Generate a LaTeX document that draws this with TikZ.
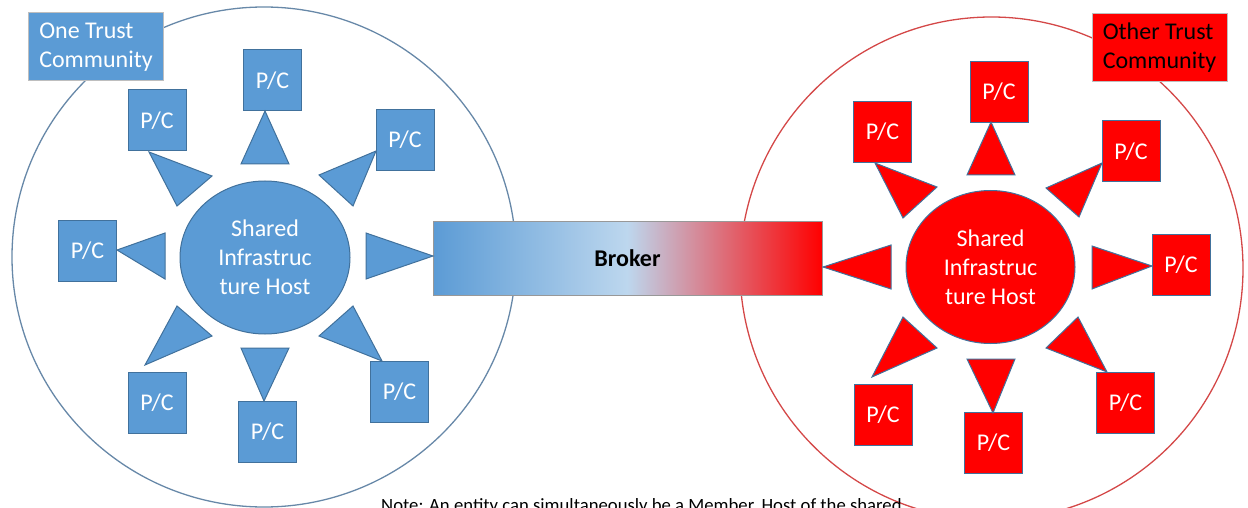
\documentclass[tikz,border=0pt]{standalone}
\usepackage{fontspec}
\setmainfont{Carlito}
\usepackage{tikz}
\usetikzlibrary{positioning}
\usetikzlibrary{shapes.geometric}
\definecolor{pcblue}{RGB}{91,155,213}
\definecolor{pcedge}{RGB}{65,113,156}
\definecolor{pcred}{RGB}{255,0,0}
\definecolor{lring}{RGB}{103,136,168}
\definecolor{rring}{RGB}{212,72,72}
\definecolor{titleedge}{RGB}{190,190,190}
\definecolor{brokerlight}{RGB}{189,215,238}
\pgfdeclarehorizontalshading{brokershade}{100bp}{color(0bp)=(pcblue); color(25bp)=(pcblue); color(50bp)=(brokerlight); color(75bp)=(pcred); color(100bp)=(pcred)}
\tikzset{pcbox/.style={draw=pcedge, line width=1pt, fill=#1, text=white, minimum width=58pt, minimum height=61pt, inner sep=0pt, font=\fontsize{24}{28}\selectfont}}
\tikzset{hostnode/.style={ellipse, draw=pcedge, line width=1pt, fill=#1, text=white, inner sep=0pt, align=center, font=\fontsize{24}{29}\selectfont}}
\tikzset{titlebox/.style={draw=titleedge, line width=1pt, fill=#1, minimum width=135pt, minimum height=68pt, inner sep=0pt, align=left, font=\fontsize{24}{29}\selectfont}}
\tikzset{pctri/.style={fill=#1, draw=pcedge, line width=1pt, line join=miter}}

\begin{document}
\begin{tikzpicture}[x=1pt,y=-1pt]
\useasboundingbox (0,0) rectangle (1248,508);
% the two trust communities
\draw[lring, line width=1.3pt] (264,257) ellipse [x radius=252, y radius=250];
\draw[rring, line width=1.3pt] (991.5,268.5) circle [radius=251.5];
\node[titlebox=pcblue, text=white] (lcomm) at (96,47) {One Trust\\Community};
\node[titlebox=pcred, text=black] (rcomm) at (1159.5,48) {Other Trust\\Community};
% broker between them
\node[draw=titleedge!80!black, line width=0.8pt, shading=brokershade, minimum width=389pt, minimum height=74pt, inner sep=0pt, font=\fontsize{24}{28}\selectfont\bfseries] (broker) at (627.5,258) {Broker};
% hosts
\node[hostnode=pcblue, minimum width=170pt, minimum height=153pt] (lhost) at (265,257.5) {Shared\\Infrastruc\\ture Host};
\node[hostnode=pcred, minimum width=169pt, minimum height=153pt] (rhost) at (990.5,267) {Shared\\Infrastruc\\ture Host};
% providers / consumers
\foreach \n/\p in {1/{272.5,80.5}, 2/{157,120.5}, 3/{405,140}, 4/{87.5,251}, 5/{157,403}, 6/{267.5,432}, 7/{399.5,391.5}}
  \node[pcbox=pcblue] (lpc\n) at (\p) {P/C};
\foreach \n/\p in {1/{999,92}, 2/{882.5,132}, 3/{1131,151.5}, 4/{1181,264.5}, 5/{883,415}, 6/{993.5,443}, 7/{1125.5,403}}
  \node[pcbox=pcred] (rpc\n) at (\p) {P/C};
% pointers
\foreach \a/\b/\c in {{265,111}/{241,164}/{289,164}, {149,152}/{212,176}/{177,206}, {376,151}/{319,175}/{353,206}, {117,250}/{165,233}/{165,279}, {433,256}/{366,233}/{366,279}, {177,306}/{212,336}/{145,365}, {241,348}/{289,348}/{264,401}, {353,306}/{319,336}/{382,361}}
  \filldraw[pctri=pcblue] (\a) -- (\b) -- (\c) -- cycle;
\foreach \a/\b/\c in {{991,122}/{967,175}/{1015,175}, {875,163}/{937,187}/{903,218}, {1102,163}/{1046,188}/{1079,217}, {1152,266}/{1092,246}/{1092,289}, {823,267}/{891,245}/{891,289}, {903,317}/{937,348}/{872,377}, {967,359}/{1015,359}/{993,413}, {1078,317}/{1046,348}/{1107,372}}
  \filldraw[pctri=pcred] (\a) -- (\b) -- (\c) -- cycle;
\node[anchor=base west, inner sep=0pt, font=\fontsize{18.7}{22}\selectfont] (note) at (381,511) {Note: An entity can simultaneously be a Member, Host of the shared};
\end{tikzpicture}
\end{document}
